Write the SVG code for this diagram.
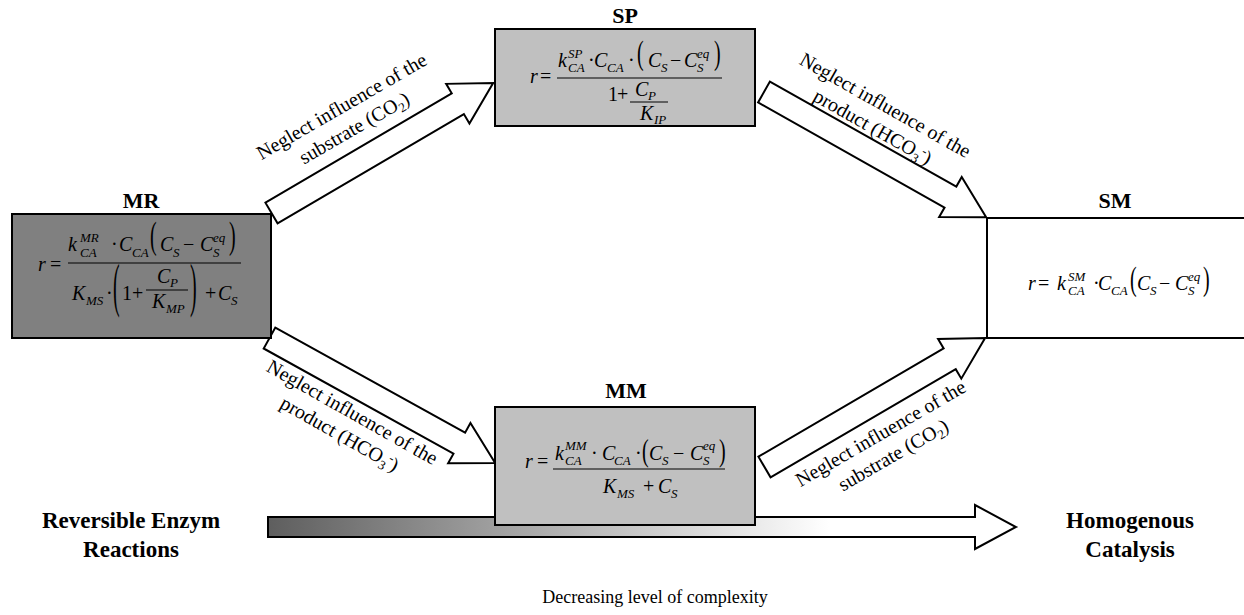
<svg xmlns="http://www.w3.org/2000/svg" width="1244" height="615" viewBox="0 0 1244 615">
<style>
.t{font-family:"Liberation Serif","Times New Roman",serif;fill:#000}
.lbl{font-size:22px;font-weight:bold;text-anchor:middle}
.blbl{font-size:23px;font-weight:bold;text-anchor:middle}
.f{font-size:20px;font-style:italic}
.n{font-style:normal}
.sb{font-size:13px;font-style:italic}
.al{font-size:20px;text-anchor:middle}
.sub{font-size:13px}
.box{stroke:#000;stroke-width:2}
.arr{fill:#fff;stroke:#000;stroke-width:2;stroke-linejoin:miter}
.fl{stroke:#000;stroke-width:1}
</style>
<defs>
<linearGradient id="grad" x1="0" y1="0" x2="1" y2="0">
<stop offset="0" stop-color="#5e5e5e"/>
<stop offset="0.75" stop-color="#ffffff"/>
<stop offset="1" stop-color="#ffffff"/>
</linearGradient>
</defs>
<rect width="1244" height="615" fill="#fff"/>

<g id="connectors">
<path class="arr" transform="translate(271.5,213) rotate(-30.4)" d="M0,-12 H216 V-23 L257,0 L216,23 V12 H0 Z"/>
<path class="arr" transform="translate(269.5,338) rotate(29)" d="M0,-12 H217 V-23 L258,0 L217,23 V12 H0 Z"/>
<path class="arr" transform="translate(764,92) rotate(29.4)" d="M0,-12 H214 V-23 L255,0 L214,23 V12 H0 Z"/>
<path class="arr" transform="translate(764.5,467) rotate(-30.3)" d="M0,-12 H214.5 V-23 L255.5,0 L214.5,23 V12 H0 Z"/>
<text class="t al" transform="translate(345,112) rotate(-30)">Neglect influence of the</text>
<text class="t al" transform="translate(357.5,133.7) rotate(-30)">substrate (CO<tspan class="sub" dy="4">2</tspan><tspan dy="-4">)</tspan></text>
<text class="t al" transform="translate(349,418) rotate(29.5)">Neglect influence of the</text>
<text class="t al" transform="translate(336.5,439.7) rotate(29.5)">product (HCO<tspan class="sub" dy="4">3</tspan><tspan class="sub" dy="-11">-</tspan><tspan dy="7">)</tspan></text>
<text class="t al" transform="translate(882,111) rotate(29.5)">Neglect influence of the</text>
<text class="t al" transform="translate(869.5,132.7) rotate(29.5)">product (HCO<tspan class="sub" dy="4">3</tspan><tspan class="sub" dy="-11">-</tspan><tspan dy="7">)</tspan></text>
<text class="t al" transform="translate(884,439) rotate(-30)">Neglect influence of the</text>
<text class="t al" transform="translate(896.5,460.7) rotate(-30)">substrate (CO<tspan class="sub" dy="4">2</tspan><tspan dy="-4">)</tspan></text>
<path transform="translate(268,527)" d="M0,-10 H707 V-22 L748,0 L707,22 V10 H0 Z" fill="url(#grad)" stroke="#000" stroke-width="2"/>
</g>

<g id="MR">
<rect class="box" x="12" y="214" width="259" height="124" fill="#808080"/>
<text class="t lbl" x="141" y="208">MR</text>
<text class="t f">
<tspan x="38" y="271">r</tspan><tspan class="n" x="50" y="271">=</tspan>
<tspan x="68" y="251">k</tspan><tspan class="sb" x="80" y="242">MR</tspan><tspan class="sb" x="80" y="257">CA</tspan>
<tspan class="n" x="111" y="251">·</tspan>
<tspan x="119" y="251">C</tspan><tspan class="sb" x="132" y="257">CA</tspan>
<tspan x="160" y="251">C</tspan><tspan class="sb" x="173" y="257">S</tspan>
<tspan class="n" x="183" y="251">−</tspan>
<tspan x="200" y="251">C</tspan><tspan class="sb" x="213" y="242">eq</tspan><tspan class="sb" x="213" y="257">S</tspan>
<tspan x="72" y="300">K</tspan><tspan class="sb" x="86" y="305">MS</tspan>
<tspan class="n" x="106" y="300">·</tspan>
<tspan class="n" x="122" y="300">1</tspan><tspan class="n" x="132" y="300">+</tspan>
<tspan x="157" y="283">C</tspan><tspan class="sb" x="170" y="287">P</tspan>
<tspan x="152" y="308">K</tspan><tspan class="sb" x="166" y="313">MP</tspan>
<tspan class="n" x="205" y="300">+</tspan>
<tspan x="218" y="300">C</tspan><tspan class="sb" x="231" y="305">S</tspan>
</text>
<text class="t f n" transform="translate(150,248.2) scale(1,1.94)">(</text>
<text class="t f n" transform="translate(229,248.2) scale(1,1.94)">)</text>
<text class="t f n" transform="translate(113,304.7) scale(1,2.94)">(</text>
<text class="t f n" transform="translate(190,304.7) scale(1,2.94)">)</text>
<line class="fl" x1="68" y1="263" x2="241" y2="263"/>
<line class="fl" x1="146" y1="290" x2="188" y2="290"/>
</g>

<g id="SP">
<rect class="box" x="495" y="29" width="260" height="97" fill="#c0c0c0"/>
<text class="t lbl" x="625" y="23">SP</text>
<text class="t f">
<tspan x="530" y="83">r</tspan><tspan class="n" x="540" y="83">=</tspan>
<tspan x="558" y="67">k</tspan><tspan class="sb" x="568" y="58">SP</tspan><tspan class="sb" x="568" y="72">CA</tspan>
<tspan class="n" x="588" y="67">·</tspan>
<tspan x="594" y="67">C</tspan><tspan class="sb" x="607" y="72">CA</tspan>
<tspan class="n" x="628" y="67">·</tspan>
<tspan x="648" y="67">C</tspan><tspan class="sb" x="661" y="72">S</tspan>
<tspan class="n" x="670" y="67">−</tspan>
<tspan x="684" y="67">C</tspan><tspan class="sb" x="697" y="58">eq</tspan><tspan class="sb" x="697" y="72">S</tspan>
<tspan class="n" x="608" y="101">1</tspan><tspan class="n" x="617" y="101">+</tspan>
<tspan x="635" y="96">C</tspan><tspan class="sb" x="648" y="100">P</tspan>
<tspan x="640" y="120">K</tspan><tspan class="sb" x="654" y="124">IP</tspan>
</text>
<text class="t f n" transform="translate(637,64.2) scale(1,1.65)">(</text>
<text class="t f n" transform="translate(714,64.2) scale(1,1.65)">)</text>
<line class="fl" x1="557" y1="78" x2="722" y2="78"/>
<line class="fl" x1="630" y1="102" x2="668" y2="102"/>
</g>

<g id="MM">
<rect class="box" x="495" y="407" width="260" height="118" fill="#c0c0c0"/>
<text class="t lbl" x="626" y="398">MM</text>
<text class="t f">
<tspan x="525" y="468">r</tspan><tspan class="n" x="537" y="468">=</tspan>
<tspan x="555" y="460">k</tspan><tspan class="sb" x="565" y="450">MM</tspan><tspan class="sb" x="565" y="465">CA</tspan>
<tspan class="n" x="591" y="460">·</tspan>
<tspan x="602" y="460">C</tspan><tspan class="sb" x="614" y="465">CA</tspan>
<tspan class="n" x="635" y="460">·</tspan>
<tspan x="649" y="460">C</tspan><tspan class="sb" x="662" y="465">S</tspan>
<tspan class="n" x="673" y="460">−</tspan>
<tspan x="690" y="460">C</tspan><tspan class="sb" x="703" y="450">eq</tspan><tspan class="sb" x="703" y="465">S</tspan>
<tspan x="603" y="493">K</tspan><tspan class="sb" x="617" y="498">MS</tspan>
<tspan class="n" x="643" y="493">+</tspan>
<tspan x="658" y="493">C</tspan><tspan class="sb" x="671" y="498">S</tspan>
</text>
<text class="t f n" transform="translate(642,461.4) scale(1,1.6)">(</text>
<text class="t f n" transform="translate(719,461.4) scale(1,1.6)">)</text>
<line class="fl" x1="553" y1="469" x2="725" y2="469"/>
</g>

<g id="SM">
<path class="box" fill="none" d="M1244,218 H987 V338 H1244"/>
<text class="t lbl" x="1115" y="208">SM</text>
<text class="t f">
<tspan x="1028" y="290">r</tspan><tspan class="n" x="1038" y="290">=</tspan>
<tspan x="1057" y="290">k</tspan><tspan class="sb" x="1068" y="281">SM</tspan><tspan class="sb" x="1068" y="295">CA</tspan>
<tspan class="n" x="1093" y="290">·</tspan>
<tspan x="1098" y="290">C</tspan><tspan class="sb" x="1111" y="295">CA</tspan>
<tspan x="1137" y="290">C</tspan><tspan class="sb" x="1150" y="295">S</tspan>
<tspan class="n" x="1159" y="290">−</tspan>
<tspan x="1175" y="290">C</tspan><tspan class="sb" x="1188" y="281">eq</tspan><tspan class="sb" x="1188" y="295">S</tspan>
</text>
<text class="t f n" transform="translate(1130,290.2) scale(1,1.65)">(</text>
<text class="t f n" transform="translate(1203,290.2) scale(1,1.65)">)</text>
</g>

<g id="axis-labels">
<text class="t blbl" x="131" y="528">Reversible Enzym</text>
<text class="t blbl" x="131" y="557">Reactions</text>
<text class="t blbl" x="1130" y="528">Homogenous</text>
<text class="t blbl" x="1130" y="557">Catalysis</text>
<text class="t" x="655" y="603" font-size="18" text-anchor="middle">Decreasing level of complexity</text>
</g>
</svg>
